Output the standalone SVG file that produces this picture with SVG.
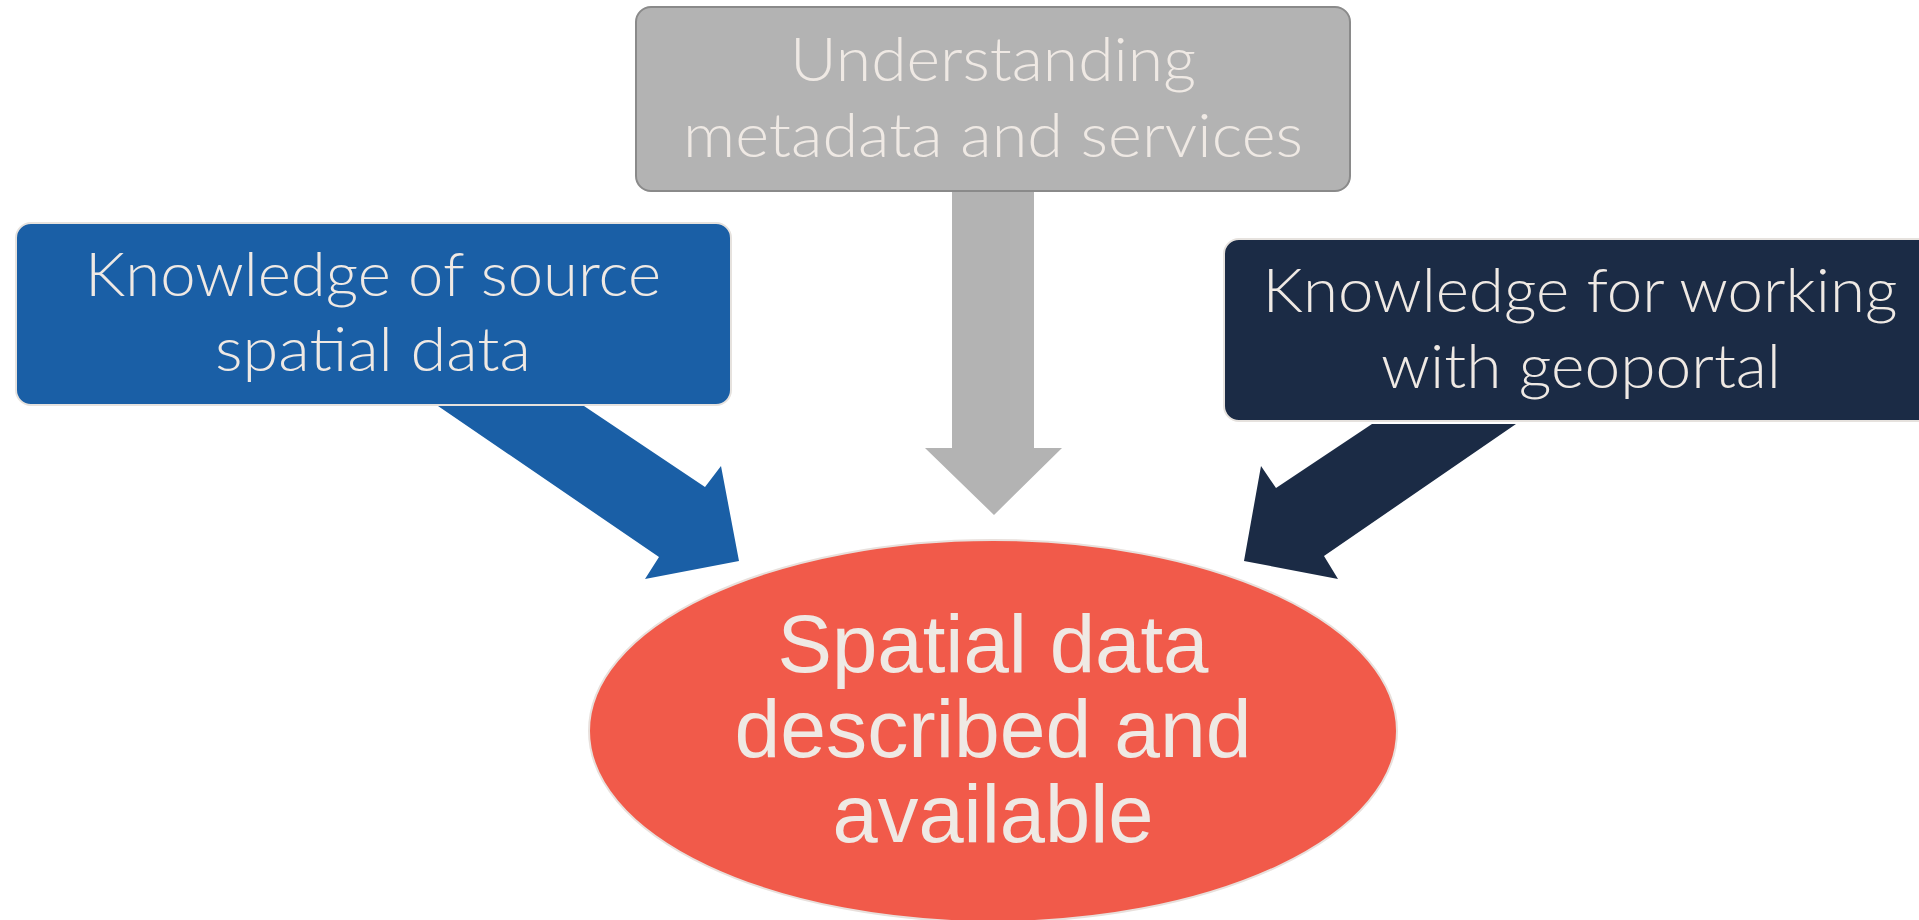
<svg xmlns="http://www.w3.org/2000/svg" width="1919" height="920" viewBox="0 0 1919 920">
<style>
.lbl{font-family:Lato,"Open Sans","Liberation Sans",sans-serif;font-weight:300;font-size:62px;fill:#efe9e4;text-anchor:middle}
.big{font-family:"Liberation Sans",Arial,sans-serif;font-size:81px;fill:#efe9e4;text-anchor:middle}
</style>
<rect width="1919" height="920" fill="#ffffff"/>
<g id="connectors">
<polygon id="arrow-gray" points="952,191 1034,191 1034,448 1062,448 994,515 925,448 952,448" fill="#b3b3b3"/>
<polygon id="arrow-blue" points="438,406 584,406 705,487 721,466 739,561 645,579 659,557" fill="#1a5fa6"/>
<polygon id="arrow-dark" points="1372,424 1516,424 1324,556 1338,579 1244,561 1261,466 1276,488" fill="#1b2b45"/>
</g>
<g id="node-gray">
<rect x="636" y="7" width="714" height="184" rx="15" fill="#b3b3b3" stroke="#8a8a8a" stroke-width="2"/>
<text class="lbl" x="993" y="81" textLength="406" lengthAdjust="spacingAndGlyphs">Understanding</text>
<text class="lbl" x="993" y="157" textLength="620" lengthAdjust="spacingAndGlyphs">metadata and services</text>
</g>
<g id="node-blue">
<rect x="16" y="223" width="715" height="182" rx="15" fill="#1a5fa6" stroke="#e6e2de" stroke-width="2"/>
<text class="lbl" x="373" y="296" textLength="576" lengthAdjust="spacingAndGlyphs">Knowledge of source</text>
<text class="lbl" x="373" y="371" textLength="316" lengthAdjust="spacingAndGlyphs">spatial data</text>
</g>
<g id="node-dark">
<rect x="1224" y="239" width="712" height="182" rx="15" fill="#1b2b45" stroke="#e6e2de" stroke-width="2"/>
<text class="lbl" x="1580" y="312" textLength="635" lengthAdjust="spacingAndGlyphs">Knowledge for working</text>
<text class="lbl" x="1581" y="388" textLength="400" lengthAdjust="spacingAndGlyphs">with geoportal</text>
</g>
<g id="node-result">
<ellipse cx="993" cy="731" rx="404" ry="191" fill="#f15a4a" stroke="#e8e0dc" stroke-width="2"/>
<text class="big" x="993" y="672" textLength="431" lengthAdjust="spacingAndGlyphs">Spatial data</text>
<text class="big" x="993" y="757" textLength="517" lengthAdjust="spacingAndGlyphs">described and</text>
<text class="big" x="993" y="842" textLength="321" lengthAdjust="spacingAndGlyphs">available</text>
</g>
</svg>
